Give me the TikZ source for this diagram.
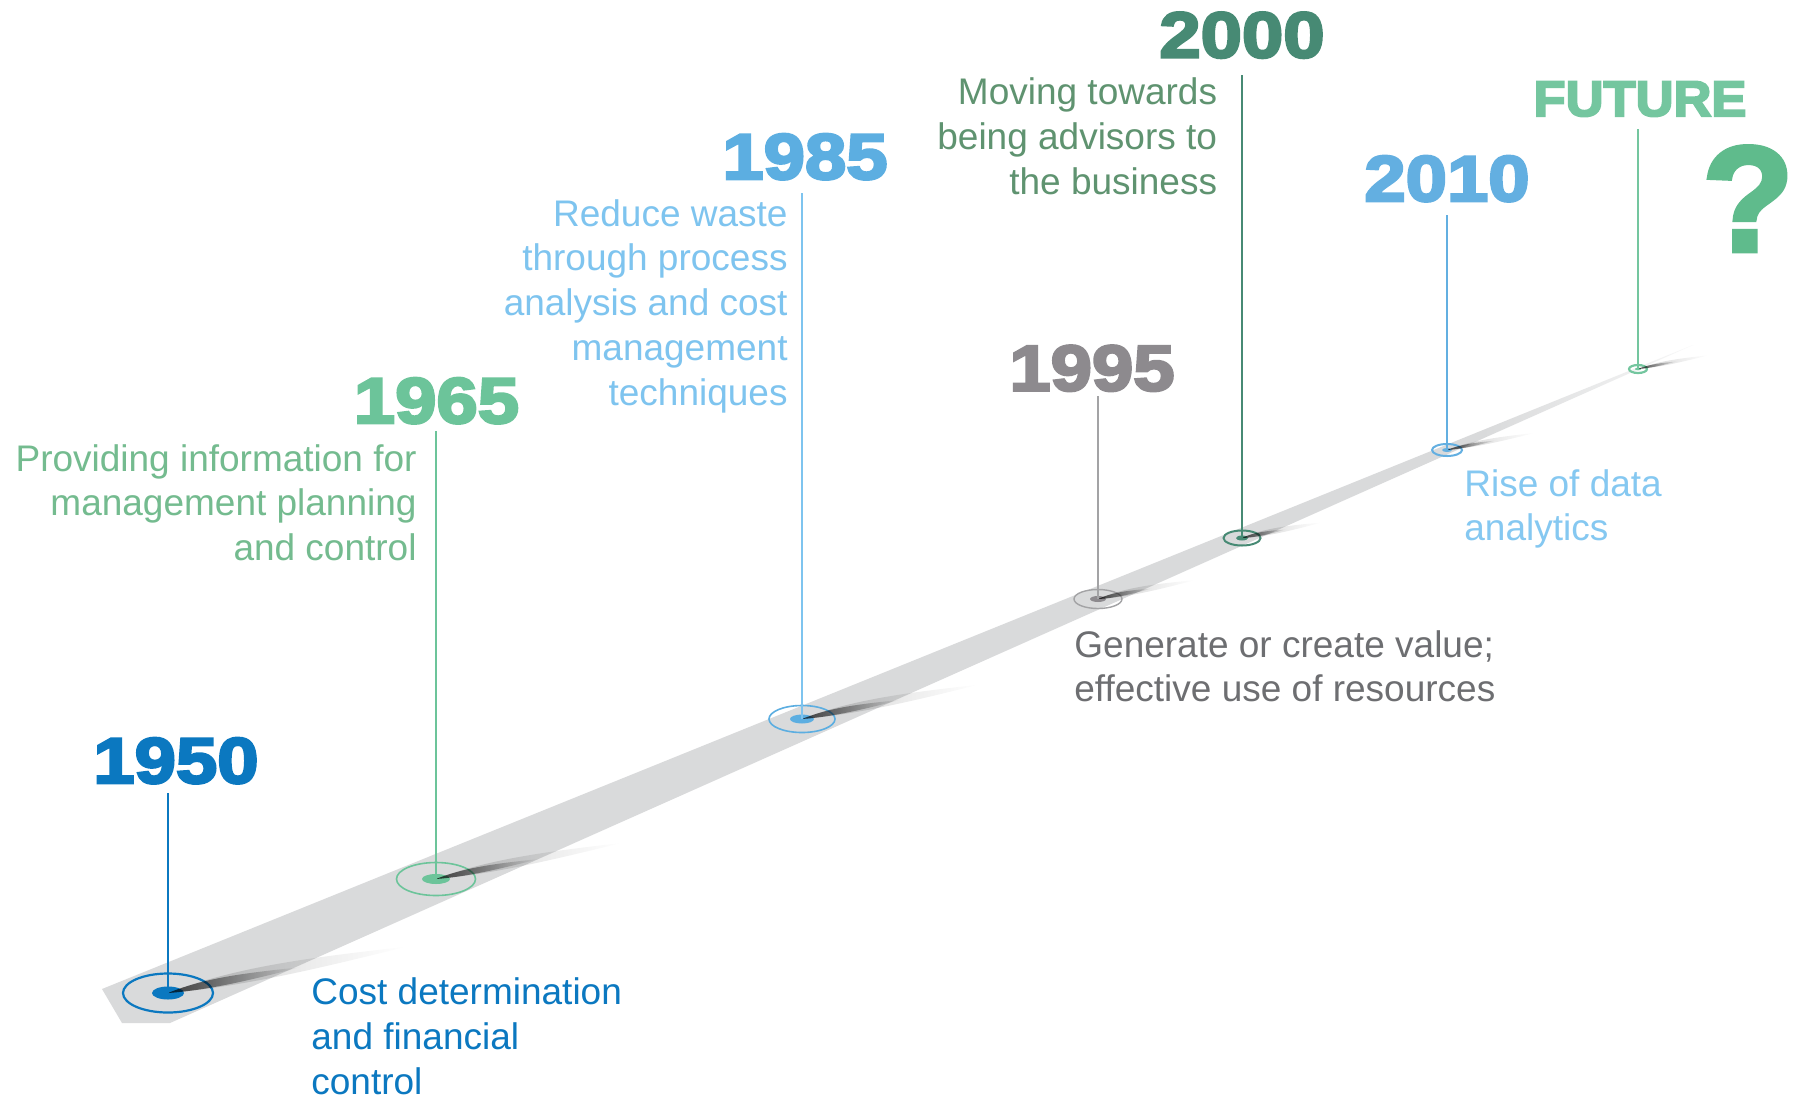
\documentclass[tikz,border=0pt]{standalone}
\usepackage{fontspec}
\setmainfont{Liberation Sans}
\newfontfamily\yearfont[FakeBold=4,FakeStretch=1.15]{Liberation Sans Bold}
\newfontfamily\futfont[FakeBold=4,FakeStretch=1.05]{Liberation Sans Bold}
\newfontfamily\qfont[FakeBold=3]{Liberation Sans Bold}
\usetikzlibrary{fadings}
\definecolor{bandgray}{HTML}{D9DADB}
\definecolor{cA}{HTML}{0B78C0}
\definecolor{cBy}{HTML}{6CC49A}
\definecolor{cBt}{HTML}{74BB8F}
\definecolor{cCy}{HTML}{5CAEE1}
\definecolor{cCt}{HTML}{7EC4EF}
\definecolor{cDy}{HTML}{8D8A8E}
\definecolor{cDt}{HTML}{6D6E71}
\definecolor{cDl}{HTML}{A3A3A5}
\definecolor{cEy}{HTML}{478A74}
\definecolor{cEt}{HTML}{5F9370}
\definecolor{cFy}{HTML}{63AFE1}
\definecolor{cFt}{HTML}{85C8F1}
\definecolor{cGy}{HTML}{74C69F}
\definecolor{cQ}{HTML}{5FBB8C}
\tikzfading[name=fadeR, left color=transparent!0, right color=transparent!100]
\tikzfading[name=fadeL, left color=transparent!100, right color=transparent!0]
\newcommand\tlshadow[3]{%
  \begin{scope}[shift={(#1)}, rotate=11]
    \fill[black, opacity=0.18, path fading=fadeR]
      (0,0) .. controls (0.3*#2*1.8, -#3*1.6) and (0.6*#2*1.8,-0.6*#3*1.6) .. (#2*1.8,0)
      .. controls (0.6*#2*1.8,0.4*#3*1.6) and (0.3*#2*1.8,0.6*#3*1.6) .. (0,0);
    \fill[black, opacity=0.65, path fading=fadeR]
      (0,0) .. controls (0.3*#2, -#3) and (0.6*#2,-0.6*#3) .. (#2,0)
      .. controls (0.6*#2,0.4*#3) and (0.3*#2,0.6*#3) .. (0,0);
  \end{scope}}
\tikzset{
  yr/.style={inner sep=0pt, anchor=base, font=\yearfont\fontsize{32.3pt}{36pt}\selectfont},
  dsc/.style={inner sep=0pt, font=\fontsize{18.5pt}{22.4pt}\selectfont},
  stem/.style={line width=0.75pt},
  ring/.style={line width=1pt},
}
\begin{document}
\begin{tikzpicture}[x=0.5pt,y=-0.5pt]
\useasboundingbox (0,0) rectangle (1801,1099);
\fill[white] (0,0) rectangle (1801,1099);
% band
\fill[bandgray] (102,989) -- (1693,345) -- (170,1023) -- (122,1023) -- cycle;
\fill[white, opacity=0.85, path fading=fadeL] (1480,380) -- (1700,330) -- (1700,400) -- (1480,460) -- cycle;
% marker coordinates
\coordinate (mA) at (168,993);
\coordinate (mB) at (436,879);
\coordinate (mC) at (802,719);
\coordinate (mD) at (1098,599);
\coordinate (mE) at (1242,538);
\coordinate (mF) at (1447,450);
\coordinate (mG) at (1638,369);
\coordinate (tA) at (168,793);
\coordinate (tB) at (436,431);
\coordinate (tC) at (802,193);
\coordinate (tD) at (1098,396);
\coordinate (tE) at (1242,75);
\coordinate (tF) at (1447,215);
\coordinate (tG) at (1638,129);
% rings and dots
\draw[ring, cA, line width=1.1pt] (mA) ellipse [x radius=45, y radius=19.5];
\fill[cA] (mA) ellipse [x radius=16, y radius=6.5];
\draw[ring, cBy, line width=0.8pt] (mB) ellipse [x radius=39.5, y radius=16.5];
\fill[cBy] (mB) ellipse [x radius=14, y radius=5];
\draw[ring, cCy, line width=0.8pt] (mC) ellipse [x radius=33, y radius=13.5];
\fill[cCy] (mC) ellipse [x radius=12, y radius=4.5];
\draw[ring, cDl, line width=0.7pt] (mD) ellipse [x radius=24, y radius=9.5];
\fill[cDy] (mD) ellipse [x radius=8, y radius=3];
\draw[ring, cEy, line width=1pt] (mE) ellipse [x radius=18.5, y radius=7.5];
\fill[cEy] (mE) ellipse [x radius=6, y radius=2.5];
\draw[ring, cFy, line width=1pt] (mF) ellipse [x radius=15, y radius=6];
\fill[cFy] (mF) ellipse [x radius=5, y radius=2];
\draw[ring, cGy, line width=1.1pt] (mG) ellipse [x radius=9, y radius=4];
\fill[cGy] (mG) ellipse [x radius=3, y radius=1.3];
% shadows
\tlshadow{mA}{135}{8}
\tlshadow{mB}{105}{6}
\tlshadow{mC}{100}{6}
\tlshadow{mD}{55}{4}
\tlshadow{mE}{45}{3.5}
\tlshadow{mF}{50}{3}
\tlshadow{mG}{40}{2.5}
% stems
\draw[stem, cA] (tA) -- (mA);
\draw[stem, cBy] (tB) -- (mB);
\draw[stem, cCt] (tC) -- (mC);
\draw[stem, cDl] (tD) -- (mD);
\draw[stem, cEy] (tE) -- (mE);
\draw[stem, cFy] (tF) -- (mF);
\draw[stem, cGy] (tG) -- (mG);
% years
\node[yr, text=cA] (yA) at (176,783) {1950};
\node[yr, text=cBy] (yB) at (436.5,423) {1965};
\node[yr, text=cCy] (yC) at (805,179) {1985};
\node[yr, text=cDy] (yD) at (1092,390.5) {1995};
\node[yr, text=cEy] (yE) at (1242,57.4) {2000};
\node[yr, text=cFy] (yF) at (1447,201) {2010};
\node[inner sep=0pt, anchor=base, text=cGy, font=\futfont\fontsize{25pt}{28pt}\selectfont] (yG) at (1640,116) {FUTURE};
\node[inner sep=0pt, anchor=base, text=cQ, font=\qfont\fontsize{75pt}{80pt}\selectfont] (q) at (1748,251) {?};
% descriptions (base anchor = last line baseline)
\node[dsc, text=cA, align=left, anchor=base west] (dA) at (311,1094.5) {Cost determination\\and financial\\control};
\node[dsc, text=cBt, align=right, anchor=base east] (dB) at (417,560.6) {Providing information for\\management planning\\and control};
\node[dsc, text=cCt, align=right, anchor=base east] (dC) at (788,405.2) {Reduce waste\\through process\\analysis and cost\\management\\techniques};
\node[dsc, text=cDt, align=left, anchor=base west] (dD) at (1074,701.8) {Generate or create value;\\effective use of resources};
\node[dsc, text=cEt, align=right, anchor=base east] (dE) at (1217.5,194.1) {Moving towards\\being advisors to\\the business};
\node[dsc, text=cFt, align=left, anchor=base west] (dF) at (1464,540.8) {Rise of data\\analytics};
\end{tikzpicture}
\end{document}
